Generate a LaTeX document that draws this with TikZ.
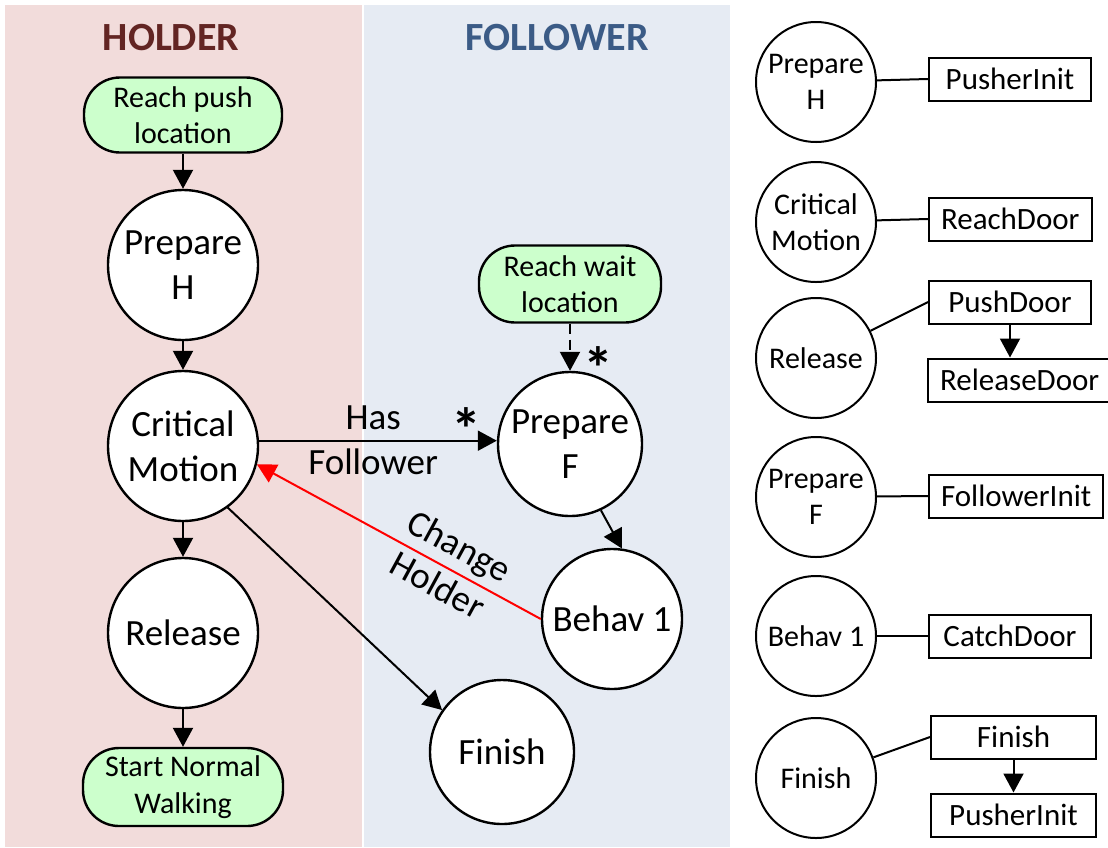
\documentclass[tikz,border=0pt]{standalone}
\usepackage{fontspec}
\setmainfont{Carlito}
\usepackage{xcolor}
\usetikzlibrary{arrows.meta}

\definecolor{holderbg}{HTML}{F2DCDB}
\definecolor{followerbg}{HTML}{E6EBF3}
\definecolor{holdertxt}{HTML}{632523}
\definecolor{followertxt}{HTML}{3B5B86}
\definecolor{termgreen}{HTML}{CCFFCC}

\tikzset{
  big/.style={font=\fontsize{18.5}{22.5}\selectfont},
  small/.style={font=\fontsize{15}{18.2}\selectfont},
  state/.style={circle, draw, fill=white, line width=1.2pt, align=center, inner sep=0pt, minimum size=75pt, big},
  fstate/.style={state, minimum size=72pt},
  term/.style={rectangle, rounded corners=18pt, draw, fill=termgreen, line width=1.2pt, align=center, small, inner sep=2pt},
  lstate/.style={circle, draw, line width=1pt, align=center, inner sep=0pt, minimum size=60pt, small},
  behbox/.style={rectangle, draw, line width=1pt, minimum width=81pt, minimum height=21.5pt, inner xsep=6pt, anchor=west, font=\fontsize{15.5}{18}\selectfont},
  flow/.style={line width=1pt, -{Triangle[length=9.5pt,width=10pt]}},
  star/.style={anchor=base, font=\fontsize{30}{34}\selectfont\bfseries}
}

\begin{document}
\begin{tikzpicture}[x=0.5pt, y=-0.5pt]
    \useasboundingbox (0,0) rectangle (1108,847);
    \fill[holderbg] (5,5) rectangle (362,847);
    \fill[followerbg] (364,5) rectangle (730,847);

    \node[font=\fontsize{20}{24}\selectfont\bfseries, text=holdertxt] (holdertitle) at (171,38) {HOLDER};
    \node[font=\fontsize{20}{24}\selectfont\bfseries, text=followertxt] (followertitle) at (557,38) {FOLLOWER};

    % holder column
    \node[term, minimum width=99pt, minimum height=37.5pt] (reachpush) at (183,115) {Reach push\\location};
    \node[state] (prepH) at (183,265) {Prepare\\H};
    \node[state] (crit) at (183,446) {Critical\\Motion};
    \node[state] (rel) at (183,633) {Release};
    \node[term, minimum width=100pt, minimum height=39pt] (startwalk) at (183,787) {Start Normal\\Walking};

    % follower column
    \node[term, minimum width=91pt, minimum height=38.5pt] (reachwait) at (570,284) {Reach wait\\location};
    \node[fstate] (prepF) at (570,444) {Prepare\\F};
    \node[fstate, minimum size=70pt] (behav) at (612,619) {Behav 1};
    \node[fstate] (fin) at (502,752) {Finish};

    \draw[flow] (reachpush) -- (prepH);
    \draw[flow] (prepH) -- (crit);
    \draw[flow] (crit) -- (rel);
    \draw[flow] (rel) -- (startwalk);
    \draw[flow, dashed, dash pattern=on 5pt off 3pt] (reachwait) -- (prepF);
    \draw[flow] (crit.4) -- (crit.4 -| prepF.west)
        node[pos=0.48, big, align=center] (hasfol) {Has\\Follower};
    \draw[flow] (prepF.-65) -- (behav.82);
    \draw[flow] (crit.-54) -- (fin.145);
    \draw[flow, red] (behav.west) -- (crit.-14)
        node[pos=0.33, sloped, yshift=1.5pt, big, align=center, text=black] (chhold) {Change\\Holder};

    \node[star] (star1) at (466,450) {*};
    \node[star] (star2) at (598,389) {*};

    % legend
    \node[lstate] (cPrepH) at (816,82) {Prepare\\H};
    \node[lstate] (cCrit) at (816,222) {Critical\\Motion};
    \node[lstate] (cRel) at (816,358) {Release};
    \node[lstate] (cPrepF) at (816,497) {Prepare\\F};
    \node[lstate] (cBehav) at (816,636) {Behav 1};
    \node[lstate] (cFin) at (816,778) {Finish};

    \node[behbox] (bPushInitA) at (928,79) {PusherInit};
    \node[behbox] (bReach) at (928,219) {ReachDoor};
    \node[behbox] (bPush) at (928,302) {PushDoor};
    \node[behbox] (bRelDoor) at (927,380) {ReleaseDoor};
    \node[behbox] (bFolInit) at (928,496) {FollowerInit};
    \node[behbox] (bCatch) at (928,636) {CatchDoor};
    \node[behbox, minimum width=82.5pt] (bFin) at (930,737) {Finish};
    \node[behbox, minimum width=82.5pt] (bPushInitB) at (930,815) {PusherInit};

    \draw[line width=1pt] (cPrepH) -- (bPushInitA.west);
    \draw[line width=1pt] (cCrit) -- (bReach.west);
    \draw[line width=1pt] (cRel) -- (bPush.west);
    \draw[line width=1pt] (cPrepF) -- (bFolInit.west);
    \draw[line width=1pt] (cBehav) -- (bCatch.west);
    \draw[line width=1pt] (cFin) -- (bFin.west);
    \draw[flow] (bPush.south) -- (bPush.south |- bRelDoor.north);
    \draw[flow] (bFin) -- (bPushInitB);
\end{tikzpicture}
\end{document}
